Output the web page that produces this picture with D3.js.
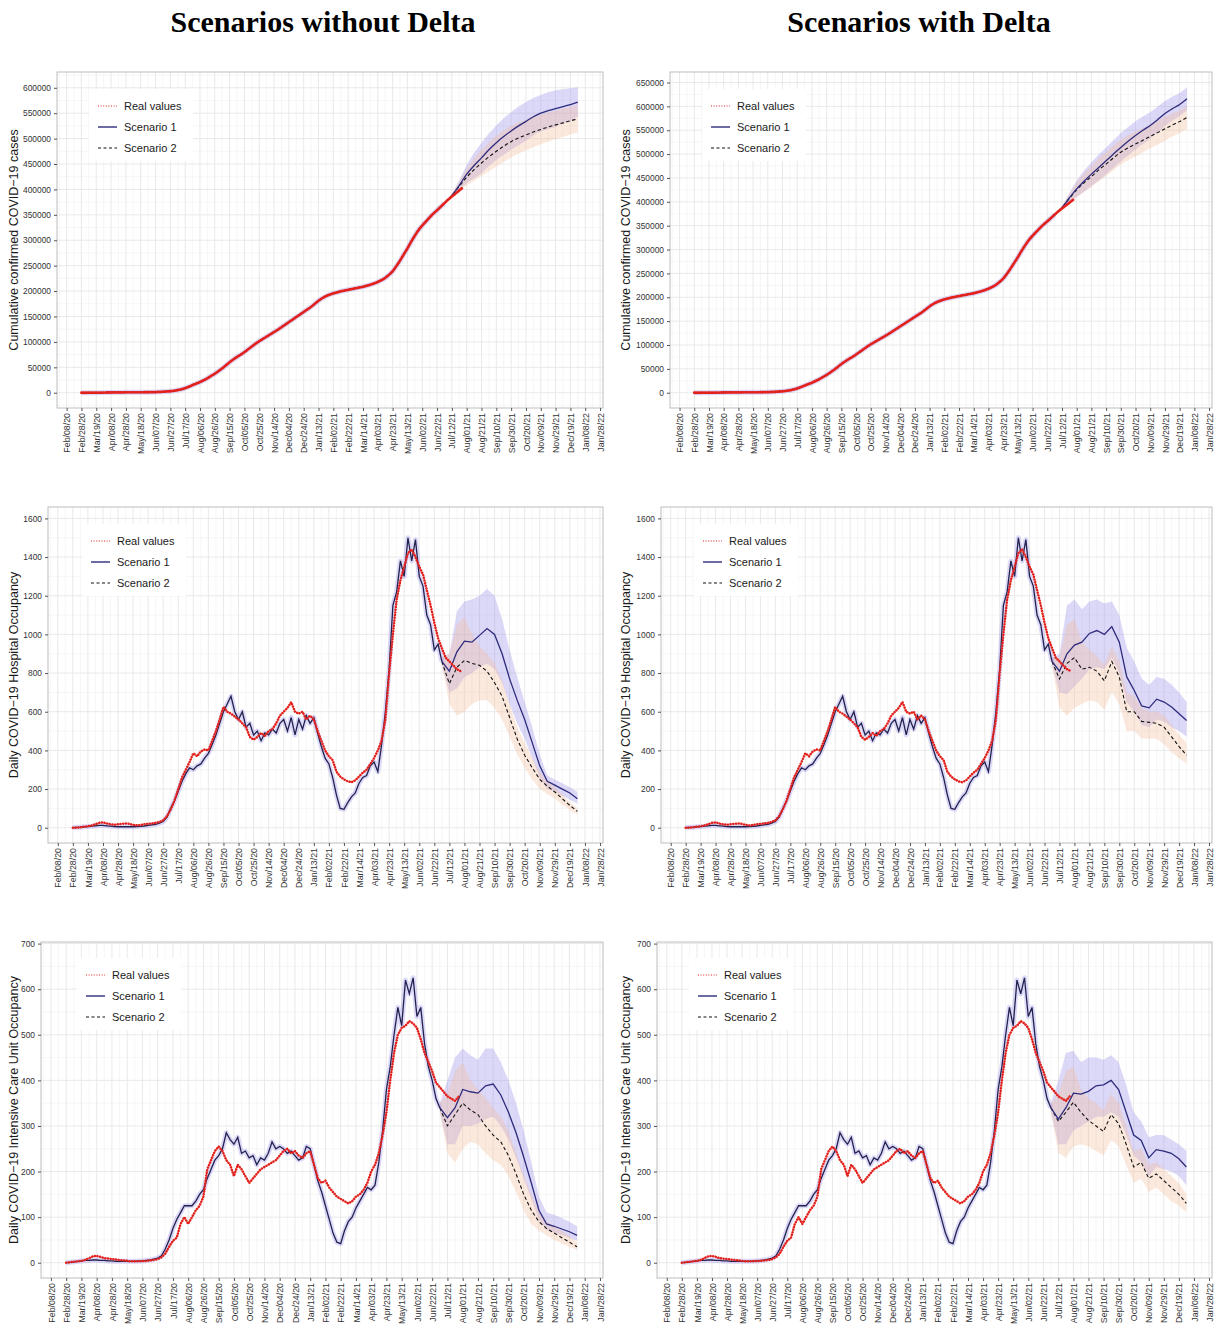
<!DOCTYPE html>
<html>
<head>
<meta charset="utf-8">
<script src="https://cdn.jsdelivr.net/npm/d3@7"></script>
<style>
body { margin: 0; background: #fff; }
svg { display: block; font-family: 'Liberation Sans', Arial, sans-serif; }
</style>
</head>
<body>
<svg id="chart" width="1218" height="1326"></svg>
<script>
const svg = d3.select('#chart');

// history is sampled every 5 days from Feb 28 2020, projections every 10 days from Jul 2 2021
const HIST_START = new Date(2020, 1, 28);
const PROJ_START = new Date(2021, 6, 2);
const X_DOMAIN = [new Date(2020, 0, 26), new Date(2022, 1, 1)];
const FIRST_TICK = new Date(2020, 1, 8);

const colTitles = ['Scenarios without Delta', 'Scenarios with Delta'];
const legendLabels = ['Real values', 'Scenario 1', 'Scenario 2'];

// cumulative cases, thousands
const casesReal = [0, 0, 0.01, 0.03, 0.09, 0.16, 0.3, 0.42, 0.5, 0.58, 0.65, 0.68, 0.72, 0.74, 0.77, 0.8, 0.86, 0.9, 0.95, 1.1,
  1.3, 1.6, 2.0, 2.5, 3.0, 4.0, 5.2, 6.8, 9.0, 11.8, 15.0, 18.0, 21.0, 24.5, 28.5, 33.0, 37.5, 42.5, 48.0, 54.0,
  60.0, 65.5, 70.5, 75.0, 80.0, 85.5, 91.0, 96.5, 101.5, 106.0, 110.5, 115.0, 119.5, 124.0, 129.0, 134.0, 139.0, 144.0, 149.0, 154.0,
  159.0, 164.0, 169.0, 175.0, 181.0, 186.0, 190.0, 193.0, 195.5, 197.5, 199.5, 201.0, 202.5, 204.0, 205.5, 207.0, 208.5, 210.5, 212.5, 215.0,
  218.0, 221.5, 226.0, 232.0, 239.0, 249.0, 260.0, 272.0, 284.0, 297.0, 309.0, 320.0, 329.0, 337.0, 345.0, 352.5, 359.0, 366.0, 373.0, 380.0,
  386.0, 392.0, 398.0, 404.0];
const casesFit = [0, 0, 0.01, 0.03, 0.09, 0.16, 0.3, 0.42, 0.5, 0.58, 0.65, 0.68, 0.72, 0.74, 0.77, 0.8, 0.86, 0.9, 0.95, 1.1,
  1.3, 1.6, 2.0, 2.5, 3.0, 4.0, 5.2, 6.8, 9.0, 11.8, 15.0, 18.0, 21.0, 24.5, 28.5, 33.0, 37.5, 42.5, 48.0, 54.0,
  60.0, 65.5, 70.5, 75.0, 80.0, 85.5, 91.0, 96.5, 101.5, 106.0, 110.5, 115.0, 119.5, 124.0, 129.0, 134.0, 139.0, 144.0, 149.0, 154.0,
  159.0, 164.0, 169.0, 175.0, 181.0, 186.0, 190.0, 193.0, 195.5, 197.5, 199.5, 201.0, 202.5, 204.0, 205.5, 207.0, 208.5, 210.5, 212.5, 215.0,
  218.0, 221.5, 226.0, 232.0, 239.0, 249.0, 260.0, 272.0, 284.0, 297.0, 309.0, 320.0, 329.0, 337.0, 345.0, 352.5, 359.0, 366.0, 373.0];

const casesS1NoDelta = [373, 388, 408, 430, 447, 462, 478, 492, 504, 515, 525, 534, 543, 550, 555, 559, 563, 567, 572];
const casesS1LoNoDelta = [372, 384, 398, 412, 422, 432, 446, 458, 468, 478, 487, 496, 506, 514, 519, 523, 529, 535, 543];
const casesS1HiNoDelta = [374, 392, 418, 448, 472, 492, 510, 526, 540, 552, 563, 572, 580, 586, 591, 595, 597, 599, 601];
const casesS2NoDelta = [373, 388, 406, 424, 439, 452, 464, 475, 485, 494, 501, 507, 513, 518, 523, 527, 531, 535, 539];
const casesS2LoNoDelta = [372, 384, 397, 408, 417, 426, 436, 445, 454, 463, 470, 477, 483, 489, 494, 499, 503, 508, 512];
const casesS2HiNoDelta = [374, 392, 415, 440, 461, 478, 492, 505, 516, 525, 532, 537, 543, 547, 552, 555, 559, 562, 566];

const casesS1Delta = [373, 388, 408, 427, 443, 458, 472, 486, 500, 514, 527, 539, 550, 560, 572, 585, 595, 604, 616];
const casesS1LoDelta = [372, 384, 398, 410, 421, 433, 445, 458, 471, 484, 497, 509, 521, 532, 545, 559, 570, 580, 592];
const casesS1HiDelta = [374, 392, 418, 444, 465, 483, 499, 514, 529, 544, 557, 569, 579, 588, 599, 611, 620, 628, 640];
const casesS2Delta = [373, 388, 407, 425, 440, 453, 467, 479, 492, 504, 513, 521, 529, 537, 545, 553, 561, 568, 577];
const casesS2LoDelta = [372, 384, 398, 410, 421, 431, 443, 454, 466, 478, 487, 495, 504, 512, 520, 528, 537, 544, 553];
const casesS2HiDelta = [374, 392, 416, 440, 459, 475, 491, 504, 518, 530, 539, 547, 554, 562, 570, 578, 585, 592, 601];

// hospital occupancy
const hospReal = [0, 0, 2, 5, 8, 12, 18, 25, 28, 22, 18, 15, 18, 20, 22, 20, 15, 12, 14, 18,
  20, 22, 25, 30, 38, 60, 95, 140, 200, 260, 300, 340, 385, 370, 395, 405, 400, 450, 500, 560,
  625, 600, 590, 575, 560, 540, 520, 470, 455, 470, 490, 475, 500, 510, 540, 580, 600, 620, 650, 600,
  590, 600, 560, 580, 560, 500, 450, 400, 370, 350, 290, 265, 250, 240, 235, 245, 265, 285, 300, 330,
  360, 400, 450, 560, 800, 1000, 1180, 1280, 1350, 1420, 1440, 1400, 1350, 1310, 1230, 1150, 1060, 980, 930, 880,
  860, 840, 820, 810];
const hospFit = [0, 2, 3, 5, 6, 8, 10, 12, 12, 10, 8, 6, 5, 5, 5, 5, 5, 6, 7, 9,
  12, 15, 18, 24, 32, 55, 100, 140, 190, 240, 280, 310, 300, 320, 330, 360, 385, 430, 480, 540,
  600, 640, 680, 600, 560, 600, 520, 540, 480, 500, 450, 490, 480, 510, 490, 540, 560, 500, 570, 480,
  560, 510, 580, 540, 570, 490, 420, 360, 330, 260, 170, 100, 95, 130, 160, 180, 230, 260, 270, 320,
  340, 290, 430, 600, 820, 1150, 1220, 1380, 1300, 1500, 1380, 1490, 1300, 1250, 1100, 1050, 920, 950, 860];

const hospS1NoDelta = [860, 810, 910, 965, 960, 995, 1030, 1000, 900, 770, 660, 560, 440, 320, 240, 220, 200, 180, 150];
const hospS1LoNoDelta = [840, 700, 720, 780, 800, 830, 850, 820, 750, 640, 540, 460, 360, 260, 200, 185, 165, 145, 125];
const hospS1HiNoDelta = [880, 900, 1120, 1170, 1180, 1200, 1235, 1200, 1080, 920, 780, 650, 520, 380, 270, 250, 230, 210, 185];
const hospS2NoDelta = [860, 745, 830, 865, 850, 840, 810, 750, 680, 570, 460, 375, 310, 250, 215, 185, 150, 115, 85];
const hospS2LoNoDelta = [840, 640, 580, 600, 640, 660, 660, 620, 560, 470, 380, 310, 250, 200, 175, 150, 120, 90, 70];
const hospS2HiNoDelta = [880, 900, 1050, 1090, 1000, 940, 900, 850, 760, 640, 520, 440, 360, 290, 240, 210, 170, 130, 100];

const hospS1Delta = [860, 810, 900, 945, 960, 1005, 1020, 1000, 1040, 960, 780, 710, 630, 620, 665, 650, 625, 590, 555];
const hospS1LoDelta = [840, 700, 690, 730, 770, 820, 830, 820, 880, 800, 650, 600, 530, 520, 560, 550, 520, 500, 470];
const hospS1HiDelta = [880, 900, 1150, 1180, 1130, 1170, 1180, 1160, 1170, 1100, 930, 860, 770, 740, 780, 770, 740, 700, 650];
const hospS2Delta = [860, 770, 850, 880, 820, 830, 810, 760, 860, 780, 600, 600, 550, 545, 540, 520, 470, 420, 375];
const hospS2LoDelta = [840, 620, 580, 620, 640, 660, 650, 610, 700, 640, 500, 500, 460, 460, 460, 430, 390, 360, 330];
const hospS2HiDelta = [880, 880, 1050, 1080, 960, 920, 890, 840, 940, 860, 700, 680, 620, 600, 600, 580, 530, 480, 440];

// intensive care occupancy
const icuReal = [0, 1, 2, 3, 4, 6, 10, 14, 15, 13, 10, 9, 8, 7, 6, 5, 4, 3, 3, 3,
  4, 4, 5, 6, 8, 12, 20, 35, 48, 55, 85, 100, 85, 100, 115, 125, 145, 205, 225, 245,
  255, 245, 225, 215, 190, 215, 205, 190, 175, 185, 195, 205, 210, 215, 220, 225, 235, 245, 250, 240,
  245, 235, 230, 240, 245, 215, 185, 175, 180, 165, 155, 145, 140, 135, 130, 135, 145, 150, 160, 175,
  200, 215, 240, 280, 330, 400, 460, 500, 515, 520, 530, 525, 515, 490, 460, 440, 420, 395, 385, 375,
  365, 360, 355, 365];
const icuFit = [0, 1, 2, 3, 4, 5, 5, 6, 6, 5, 5, 4, 4, 3, 3, 3, 3, 3, 3, 4,
  4, 5, 6, 8, 10, 15, 30, 50, 75, 95, 110, 125, 125, 125, 135, 150, 160, 185, 205, 225,
  235, 250, 285, 270, 260, 275, 240, 245, 230, 235, 215, 230, 225, 240, 265, 250, 255, 250, 240, 245,
  235, 225, 230, 255, 250, 215, 180, 155, 125, 95, 65, 45, 42, 70, 90, 100, 120, 135, 150, 165,
  160, 170, 220, 290, 380, 430, 500, 560, 520, 620, 590, 625, 540, 560, 480, 430, 400, 360, 340];

const icuS1NoDelta = [340, 318, 340, 380, 375, 372, 388, 392, 368, 330, 285, 232, 175, 115, 85, 80, 74, 68, 60];
const icuS1LoNoDelta = [330, 260, 260, 300, 300, 305, 315, 320, 300, 270, 230, 185, 140, 95, 72, 65, 60, 55, 48];
const icuS1HiNoDelta = [350, 400, 450, 470, 455, 445, 470, 470, 440, 400, 350, 290, 220, 145, 110, 105, 98, 90, 80];
const icuS2NoDelta = [340, 300, 325, 350, 335, 325, 300, 280, 265, 235, 195, 150, 115, 90, 75, 65, 55, 45, 35];
const icuS2LoNoDelta = [330, 240, 220, 250, 265, 260, 240, 225, 215, 190, 155, 115, 85, 70, 60, 50, 42, 35, 28];
const icuS2HiNoDelta = [350, 370, 420, 440, 400, 380, 360, 340, 320, 290, 240, 190, 150, 110, 90, 80, 70, 58, 45];

const icuS1Delta = [340, 315, 340, 372, 370, 376, 388, 390, 400, 380, 330, 280, 268, 230, 248, 245, 240, 228, 210];
const icuS1LoDelta = [330, 260, 260, 290, 300, 310, 320, 320, 330, 320, 280, 235, 220, 190, 210, 205, 200, 190, 170];
const icuS1HiDelta = [350, 400, 460, 465, 440, 450, 450, 445, 455, 440, 390, 330, 310, 275, 280, 280, 270, 260, 245];
const icuS2Delta = [340, 310, 330, 352, 330, 312, 300, 288, 325, 305, 260, 210, 220, 185, 195, 180, 165, 150, 130];
const icuS2LoDelta = [330, 240, 230, 255, 260, 255, 245, 235, 270, 255, 215, 175, 185, 155, 165, 150, 135, 125, 110];
const icuS2HiDelta = [350, 370, 420, 430, 380, 360, 350, 335, 370, 350, 300, 245, 250, 215, 220, 205, 190, 175, 150];

const histDate = (i) => d3.timeDay.offset(HIST_START, 5 * i);
const projDate = (i) => d3.timeDay.offset(PROJ_START, 10 * i);

const RED = '#e3211c';
const NAVY = '#2d2b7c';
const TICK_FMT = d3.timeFormat('%b/%d/%y');

const panels = [
  { box: [57, 72, 603, 408], yDomain: [-30050, 631050], yTicks: d3.range(0, 600001, 50000), unit: 1000, smooth: true,
    yTitle: 'Cumulative confirmed COVID\u221219 cases', titleX: 14, legend: [98, 106],
    real: casesReal, fit: casesFit,
    s1: casesS1NoDelta, s1Lo: casesS1LoNoDelta, s1Hi: casesS1HiNoDelta, s2: casesS2NoDelta, s2Lo: casesS2LoNoDelta, s2Hi: casesS2HiNoDelta },
  { box: [670, 72, 1212, 408], yDomain: [-32000, 672000], yTicks: d3.range(0, 650001, 50000), unit: 1000, smooth: true,
    yTitle: 'Cumulative confirmed COVID\u221219 cases', titleX: 626, legend: [711, 106],
    real: casesReal, fit: casesFit,
    s1: casesS1Delta, s1Lo: casesS1LoDelta, s1Hi: casesS1HiDelta, s2: casesS2Delta, s2Lo: casesS2LoDelta, s2Hi: casesS2HiDelta },
  { box: [48, 507, 603, 843], yDomain: [-79, 1659], yTicks: d3.range(0, 1601, 200), unit: 1,
    yTitle: 'Daily COVID\u221219 Hospital Occupancy', titleX: 14, legend: [91, 541],
    real: hospReal, fit: hospFit,
    s1: hospS1NoDelta, s1Lo: hospS1LoNoDelta, s1Hi: hospS1HiNoDelta, s2: hospS2NoDelta, s2Lo: hospS2LoNoDelta, s2Hi: hospS2HiNoDelta },
  { box: [661, 507, 1212, 843], yDomain: [-79, 1659], yTicks: d3.range(0, 1601, 200), unit: 1,
    yTitle: 'Daily COVID\u221219 Hospital Occupancy', titleX: 626, legend: [703, 541],
    real: hospReal, fit: hospFit,
    s1: hospS1Delta, s1Lo: hospS1LoDelta, s1Hi: hospS1HiDelta, s2: hospS2Delta, s2Lo: hospS2LoDelta, s2Hi: hospS2HiDelta },
  { box: [41, 942, 603, 1278], yDomain: [-33.5, 703.5], yTicks: d3.range(0, 701, 100), unit: 1,
    yTitle: 'Daily COVID\u221219 Intensive Care Unit Occupancy', titleX: 14, legend: [86, 975],
    real: icuReal, fit: icuFit,
    s1: icuS1NoDelta, s1Lo: icuS1LoNoDelta, s1Hi: icuS1HiNoDelta, s2: icuS2NoDelta, s2Lo: icuS2LoNoDelta, s2Hi: icuS2HiNoDelta },
  { box: [657, 942, 1212, 1278], yDomain: [-33.5, 703.5], yTicks: d3.range(0, 701, 100), unit: 1,
    yTitle: 'Daily COVID\u221219 Intensive Care Unit Occupancy', titleX: 626, legend: [698, 975],
    real: icuReal, fit: icuFit,
    s1: icuS1Delta, s1Lo: icuS1LoDelta, s1Hi: icuS1HiDelta, s2: icuS2Delta, s2Lo: icuS2LoDelta, s2Hi: icuS2HiDelta },
];

const xTicks = d3.range(37).map(i => d3.timeDay.offset(FIRST_TICK, 20 * i));
const xMinor = d3.range(-1, 37).map(i => d3.timeDay.offset(FIRST_TICK, 20 * i + 10));

// column titles
svg.selectAll('text.col-title')
  .data(colTitles)
  .join('text')
  .attr('class', 'col-title')
  .attr('x', (_d, i) => [323, 919][i])
  .attr('y', 32)
  .attr('text-anchor', 'middle')
  .style('font-family', "'Liberation Serif', 'Times New Roman', serif")
  .style('font-weight', 'bold')
  .style('font-size', '30px')
  .style('fill', '#000')
  .text(d => d);

const drawPanel = (p, idx) => {
  const [x0, y0, x1, y1] = p.box;
  const x = d3.scaleTime().domain(X_DOMAIN).range([x0, x1]);
  const y = d3.scaleLinear().domain(p.yDomain).range([y1, y0]);
  const g = svg.append('g').attr('id', `panel${idx}`);
  const clipId = `clip${idx}`;

  g.append('clipPath').attr('id', clipId)
    .append('rect').attr('x', x0).attr('y', y0).attr('width', x1 - x0).attr('height', y1 - y0);

  // grid
  const step = p.yTicks[1] - p.yTicks[0];
  const yMinor = d3.range(-1, p.yTicks.length).map(i => (i + 0.5) * step)
    .filter(v => v > p.yDomain[0] && v < p.yDomain[1]);
  const xMin = xMinor.filter(d => d > X_DOMAIN[0] && d < X_DOMAIN[1]);

  const grid = g.append('g').attr('class', 'grid');
  grid.selectAll('line.vmin').data(xMin).join('line')
    .attr('x1', d => x(d)).attr('x2', d => x(d)).attr('y1', y0).attr('y2', y1)
    .style('stroke', '#f2f2f2').style('stroke-width', 0.7);
  grid.selectAll('line.hmin').data(yMinor).join('line')
    .attr('x1', x0).attr('x2', x1).attr('y1', d => y(d)).attr('y2', d => y(d))
    .style('stroke', '#f2f2f2').style('stroke-width', 0.7);
  grid.selectAll('line.vmaj').data(xTicks).join('line')
    .attr('x1', d => x(d)).attr('x2', d => x(d)).attr('y1', y0).attr('y2', y1)
    .style('stroke', '#e6e6e6').style('stroke-width', 0.9);
  grid.selectAll('line.hmaj').data(p.yTicks).join('line')
    .attr('x1', x0).attr('x2', x1).attr('y1', d => y(d)).attr('y2', d => y(d))
    .style('stroke', '#e6e6e6').style('stroke-width', 0.9);

  const plot = g.append('g').attr('clip-path', `url(#${clipId})`);
  const u = p.unit;
  const curve = p.smooth ? d3.curveMonotoneX : d3.curveLinear;

  const proj = p.s1.map((_v, i) => ({
    date: projDate(i), s1: p.s1[i] * u, s1Lo: p.s1Lo[i] * u, s1Hi: p.s1Hi[i] * u,
    s2: p.s2[i] * u, s2Lo: p.s2Lo[i] * u, s2Hi: p.s2Hi[i] * u,
  }));
  const fit = p.fit.map((v, i) => ({ date: histDate(i), v: v * u }));
  const real = p.real.map((v, i) => ({ date: histDate(i), v: v * u }));

  const band = (lo, hi) => d3.area().x(d => x(d.date)).y0(d => y(d[lo])).y1(d => y(d[hi])).curve(curve);
  const line = (key) => d3.line().x(d => x(d.date)).y(d => y(d[key])).curve(curve);

  plot.append('path').datum(proj).attr('d', band('s1Lo', 's1Hi'))
    .style('fill', '#998de8').style('fill-opacity', 0.34);
  plot.append('path').datum(proj).attr('d', band('s2Lo', 's2Hi'))
    .style('fill', '#f6bc98').style('fill-opacity', 0.32);

  // narrow uncertainty halo on the fitted history
  plot.append('path').datum(fit).attr('d', line('v'))
    .style('fill', 'none').style('stroke', '#9d93ea').style('stroke-opacity', 0.35)
    .style('stroke-width', 5).style('stroke-linejoin', 'round');
  plot.append('path').datum(fit).attr('d', line('v'))
    .style('fill', 'none').style('stroke', '#22224f').style('stroke-width', 1.3);

  plot.append('path').datum(proj).attr('d', line('s2'))
    .style('fill', 'none').style('stroke', '#111').style('stroke-width', 1.1)
    .style('stroke-dasharray', '3.5,2.5');
  plot.append('path').datum(proj).attr('d', line('s1'))
    .style('fill', 'none').style('stroke', NAVY).style('stroke-width', 1.3);

  plot.append('path').datum(real).attr('d', line('v'))
    .style('fill', 'none').style('stroke', RED)
    .style('stroke-width', p.smooth ? 2.8 : 2.5)
    .style('stroke-linecap', 'round')
    .style('stroke-dasharray', p.smooth ? '0.1,1.6' : '0.1,2.6');

  // border
  g.append('rect').attr('x', x0).attr('y', y0).attr('width', x1 - x0).attr('height', y1 - y0)
    .style('fill', 'none').style('stroke', '#bdbdbd').style('stroke-width', 1);

  // axes
  const xAxis = d3.axisBottom(x).tickValues(xTicks).tickFormat(TICK_FMT).tickSize(3);
  const xg = g.append('g').attr('transform', `translate(0,${y1})`).call(xAxis);
  xg.select('.domain').remove();
  xg.selectAll('line').style('stroke', '#555');
  xg.selectAll('text')
    .attr('transform', 'rotate(-90)')
    .attr('x', -5).attr('y', 0).attr('dy', '0.35em')
    .style('text-anchor', 'end')
    .style('font-size', '8.8px')
    .style('fill', '#333')
    .style('font-family', "'Liberation Sans', Arial, sans-serif");

  const yAxis = d3.axisLeft(y).tickValues(p.yTicks).tickFormat(d3.format('d')).tickSize(3);
  const yg = g.append('g').attr('transform', `translate(${x0},0)`).call(yAxis);
  yg.select('.domain').remove();
  yg.selectAll('line').style('stroke', '#555');
  yg.selectAll('text')
    .style('font-size', '8.4px')
    .style('fill', '#333')
    .style('font-family', "'Liberation Sans', Arial, sans-serif");

  g.append('text')
    .attr('transform', `translate(${p.titleX},${(y0 + y1) / 2}) rotate(-90)`)
    .attr('dy', '0.35em')
    .attr('text-anchor', 'middle')
    .style('font-size', '12.5px')
    .style('fill', '#1a1a1a')
    .text(p.yTitle);

  // legend
  const [lx, ly] = p.legend;
  const lg = g.append('g').attr('class', 'legend');
  lg.append('rect').attr('x', lx - 9).attr('y', ly - 17).attr('width', 104).attr('height', 72)
    .style('fill', '#fff');
  const keyStyles = [
    { stroke: RED, width: 1.1, dash: '1,1.6' },
    { stroke: NAVY, width: 1.4, dash: null },
    { stroke: '#111', width: 1.2, dash: '3,2.5' },
  ];
  lg.selectAll('line').data(keyStyles).join('line')
    .attr('x1', lx).attr('x2', lx + 19)
    .attr('y1', (_d, i) => ly + 21 * i).attr('y2', (_d, i) => ly + 21 * i)
    .style('stroke', d => d.stroke).style('stroke-width', d => d.width)
    .style('stroke-dasharray', d => d.dash);
  lg.selectAll('text').data(legendLabels).join('text')
    .attr('x', lx + 26)
    .attr('y', (_d, i) => ly + 21 * i)
    .attr('dy', '0.35em')
    .style('font-size', '11px')
    .style('fill', '#1a1a1a')
    .text(d => d);
};

panels.forEach(drawPanel);
</script>
</body>
</html>
